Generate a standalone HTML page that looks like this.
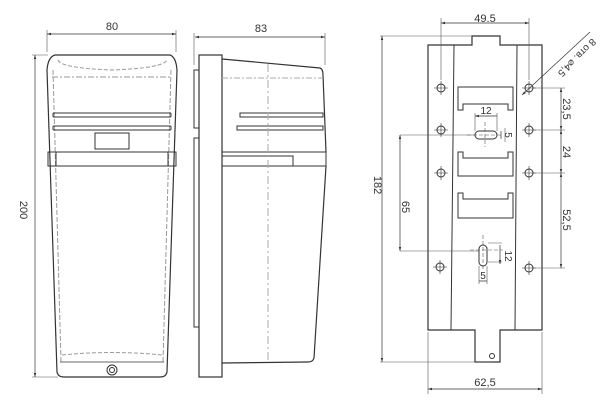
<!DOCTYPE html>
<html><head><meta charset="utf-8"><style>
html,body{margin:0;padding:0;background:#fff;}
svg{display:block;font-family:"Liberation Sans",sans-serif;}
</style></head><body>
<svg width="600" height="415" viewBox="0 0 600 415" xmlns="http://www.w3.org/2000/svg">
<defs>
<marker id="a" viewBox="0 0 10 10" refX="10" refY="5" markerWidth="6" markerHeight="6" orient="auto-start-reverse"><path d="M0,2 L10,5 L0,8" fill="#333"/></marker>
</defs>
<g fill="none" stroke="#333" stroke-width="1">
<!-- front view -->
<path d="M55,55 L170,55 Q176,57 177,70 L167,372 Q166,377 160,377 L64,377 Q58,377 57,372 L47,70 Q48,57 55,55 Z" stroke-width="1.2"/>
<path d="M58,60 Q60,68 112,70 Q164,68 167,60" stroke="#999" stroke-dasharray="4,2"/>
<path d="M52,77 L172,77" stroke="#999" stroke-dasharray="6,2,2,2"/>
<path d="M53,70 L61,362 M171,70 L163,362" stroke="#999" stroke-dasharray="5,2"/>
<path d="M60,362 L164,362" stroke="#666"/>
<path d="M62,355 Q112,350 162,355" stroke="#999" stroke-dasharray="4,2"/>
<rect x="53" y="113" width="118" height="4" rx="1"/>
<rect x="53" y="126" width="118" height="4" rx="1"/>
<rect x="95" y="133" width="34" height="16"/>
<path d="M48,152 L176,152 M48,166 L176,166"/>
<rect x="48" y="152" width="8" height="14"/><rect x="168" y="152" width="8" height="14"/>
<circle cx="112" cy="370" r="5"/><circle cx="112" cy="370" r="2.5"/>
<!-- side view -->
<rect x="199" y="55" width="23" height="322" stroke-width="1.2"/>
<rect x="194" y="70" width="5" height="58"/>
<rect x="194" y="138" width="5" height="189"/>
<path d="M222,59 L320,68 Q323,69 323,75 L326,152 M326,166 L314,358 Q313,362 308,362 L222,363" stroke-width="1.2"/>
<path d="M240,113 L323,113 L323,117 L240,117 Z M237,126 L323,126 L323,130 L237,130 Z"/>
<path d="M222,152 L326,152 L326,166 L222,166 M222,156 L293,156 L293,166"/>
<path d="M268,64 L268,360" stroke="#aaa" stroke-dasharray="8,3,2,3"/>
<path d="M222,78 L323,78" stroke="#aaa" stroke-dasharray="6,2,2,2"/>
<!-- plate -->
<path d="M428,45 L472,45 L472,36 L500,36 L500,45 L542,45 L542,330 L500,330 L500,362 L475,362 L475,330 L428,330 Z" stroke-width="1.2"/>
<path d="M454,45 L451,330 M517,45 L515,330"/>
<g>
<circle cx="441" cy="88" r="4"/><circle cx="529" cy="88" r="4"/>
<circle cx="441" cy="130" r="4"/><circle cx="529" cy="130" r="4"/>
<circle cx="441" cy="173" r="4"/><circle cx="529" cy="173" r="4"/>
<circle cx="440" cy="267" r="4"/><circle cx="529" cy="268" r="4"/>
</g>
<g stroke-width="0.6"><path d="M434,88h14M441,81v14M522,88h14M529,81v14M434,130h14M441,123v14M522,130h14M529,123v14M434,173h14M441,166v14M522,173h14M529,166v14M433,267h14M440,260v14M522,268h14M529,261v14"/></g>
<path d="M458,87 L513,87 L513,110 L508,110 L508,104 L463,104 L463,110 L458,110 Z"/>
<path d="M458,176 L513,176 L513,152 L508,152 L508,158 L463,158 L463,152 L458,152 Z"/>
<path d="M458,218 L513,218 L513,193 L508,193 L508,199 L463,199 L463,193 L458,193 Z"/>
<rect x="475" y="131" width="22" height="8" rx="4"/>
<rect x="479" y="245" width="8" height="21" rx="4"/>
<circle cx="492" cy="356" r="2.5"/>
<g stroke-width="0.6" stroke="#555">
<path d="M485,122v25M467,135h35M483,235v35M470,250h33" stroke-dasharray="4,2"/>
<path d="M475,131v-18M497,131v-18M505,128v14M479,266v18M487,266v18M488,243h14M488,262h14"/>
<path d="M441,80V18M529,80V18M428,332v62M542,332v62M380,36h92M380,362h112M400,135h75M400,251h79M533,88h32M533,130h32M533,173h32M533,268h32M47,52V30M176,52V30M194,65V33M325,65V33M32,55h16M32,377h26"/>
</g>
<g stroke-width="0.7" stroke="#333">
<path d="M441,23H529" marker-start="url(#a)" marker-end="url(#a)"/>
<path d="M382,36V362" marker-start="url(#a)" marker-end="url(#a)"/>
<path d="M428,389H542" marker-start="url(#a)" marker-end="url(#a)"/>
<path d="M400,135V251" marker-start="url(#a)" marker-end="url(#a)"/>
<path d="M561,88V130" marker-start="url(#a)" marker-end="url(#a)"/>
<path d="M561,130V173" marker-start="url(#a)" marker-end="url(#a)"/>
<path d="M561,173V268" marker-start="url(#a)" marker-end="url(#a)"/>
<path d="M47,34H176" marker-start="url(#a)" marker-end="url(#a)"/>
<path d="M195,37H325" marker-start="url(#a)" marker-end="url(#a)"/>
<path d="M35,55V377" marker-start="url(#a)" marker-end="url(#a)"/>
<path d="M475,116h22M501,131v8M479,281h8M500,245v19" marker-start="url(#a)" marker-end="url(#a)"/>
<path d="M590,32L522,95" marker-end="url(#a)"/>
</g>
</g>
<g fill="#333" font-size="11">
<text x="112" y="30" text-anchor="middle">80</text>
<text x="261" y="32" text-anchor="middle">83</text>
<text transform="translate(20,210) rotate(90)" text-anchor="middle">200</text>
<text x="485" y="22" text-anchor="middle">49.5</text>
<text transform="translate(374,185) rotate(90)" text-anchor="middle">182</text>
<text x="485" y="386" text-anchor="middle">62,5</text>
<text transform="translate(402,207) rotate(90)" text-anchor="middle">65</text>
<text x="486" y="114" text-anchor="middle" font-size="10">12</text>
<text transform="translate(505,135) rotate(90)" text-anchor="middle" font-size="10">5</text>
<text transform="translate(505,256) rotate(90)" text-anchor="middle" font-size="10">12</text>
<text x="483" y="279" text-anchor="middle" font-size="10">5</text>
<text transform="translate(563,109) rotate(90)" text-anchor="middle">23,5</text>
<text transform="translate(563,152) rotate(90)" text-anchor="middle">24</text>
<text transform="translate(563,220) rotate(90)" text-anchor="middle">52,5</text>
<text transform="translate(592,38) rotate(135)" font-size="10">8 отв. ⌀4,5</text>
</g>
</svg>
</body></html>
